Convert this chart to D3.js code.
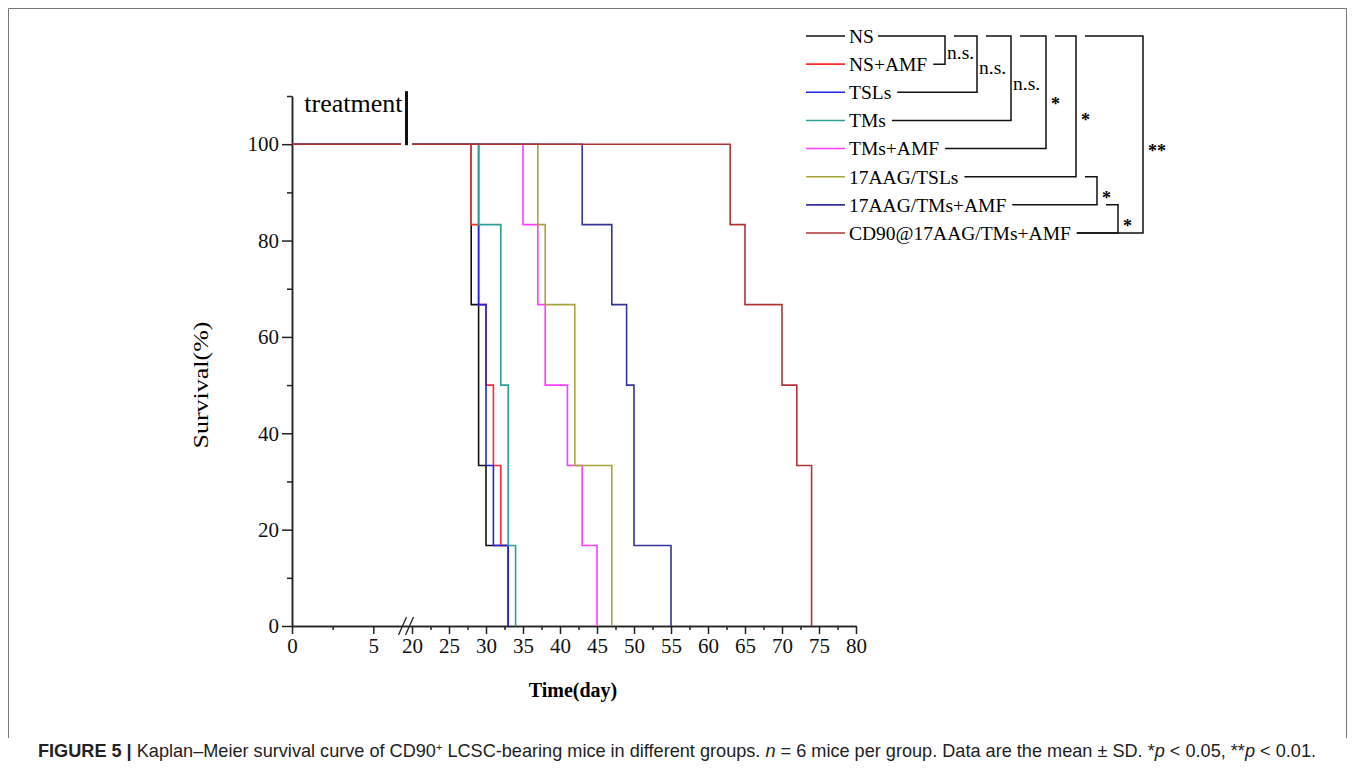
<!DOCTYPE html>
<html>
<head>
<meta charset="utf-8">
<script src="https://cdn.jsdelivr.net/npm/d3@7"></script>
<style>
  body { margin: 0; background: #fff; }
  svg { display: block; }
</style>
</head>
<body>
<div id="chart"></div>
<script>
// groups, in legend order (last one is drawn on top)
const groups = ["NS", "NS+AMF", "TSLs", "TMs", "TMs+AMF", "17AAG/TSLs", "17AAG/TMs+AMF", "CD90@17AAG/TMs+AMF"];
const colors = ["#111111", "#ff2a2a", "#2323e6", "#2e9f96", "#ff3cff", "#a9a33a", "#34349c", "#b03434"];

// Kaplan-Meier steps: day of each step and survival (%) after it
const stepDays = [
  [20, 28, 29, 30, 33],
  [20, 28, 29, 30, 31, 32, 33],
  [20, 29, 30, 31, 33],
  [20, 29, 32, 33, 34],
  [20, 35, 37, 38, 41, 43, 45],
  [20, 37, 38, 42, 47],
  [20, 43, 47, 49, 50, 55],
  [20, 63, 65, 70, 72, 74]
];
const stepSurvival = [
  [100, 66.7, 33.3, 16.7, 0],
  [100, 83.3, 66.7, 50, 33.3, 16.7, 0],
  [100, 66.7, 33.3, 16.7, 0],
  [100, 83.3, 50, 16.7, 0],
  [100, 83.3, 66.7, 50, 33.3, 16.7, 0],
  [100, 83.3, 66.7, 33.3, 0],
  [100, 83.3, 66.7, 50, 16.7, 0],
  [100, 83.3, 66.7, 50, 33.3, 0]
];

// axis ticks
const xMajor = [0, 5, 20, 25, 30, 35, 40, 45, 50, 55, 60, 65, 70, 75, 80];
const xMinor = [2.5, 22.5, 27.5, 32.5, 37.5, 42.5, 47.5, 52.5, 57.5, 62.5, 67.5, 72.5, 77.5];
const yMajor = [0, 20, 40, 60, 80, 100];
const yMinor = [10, 30, 50, 70, 90, 110];

// significance brackets between legend rows
const compA = [0, 0, 0, 0, 0, 0, 5, 6];
const compB = [1, 2, 3, 4, 5, 7, 6, 7];
const compLabel = ["n.s.", "n.s.", "n.s.", "*", "*", "**", "*", "*"];

const W = 1355, H = 775;
const breakLeft = 6.7, breakRight = 20;

const svg = d3.select("#chart").append("svg")
  .attr("width", W)
  .attr("height", H);

// frame round the figure
svg.append("path")
  .attr("d", "M8.5,738 V8.5 H1346.5 V738")
  .attr("fill", "none")
  .attr("stroke", "#777")
  .attr("stroke-width", 1);

// scales: broken x axis (0..6.7 then 20..80)
const x = d3.scaleLinear()
  .domain([0, breakLeft, breakRight, 80])
  .range([292, 401, 412, 856]);
const y = d3.scaleLinear()
  .domain([0, 110])
  .range([626, 96]);

const serif = "'Liberation Serif', 'Times New Roman', serif";

// X axis
svg.append("g")
  .attr("transform", `translate(0, ${y(0)})`)
  .call(d3.axisBottom(x).tickValues(xMajor).tickSize(8).tickSizeOuter(0).tickPadding(4));
svg.append("g")
  .attr("transform", `translate(0, ${y(0)})`)
  .call(d3.axisBottom(x).tickValues(xMinor).tickSize(4).tickSizeOuter(0).tickFormat(""));

// Y axis
svg.append("g")
  .attr("transform", `translate(${x(0)}, 0)`)
  .call(d3.axisLeft(y).tickValues(yMajor).tickSize(10).tickSizeOuter(0).tickPadding(3));
svg.append("g")
  .attr("transform", `translate(${x(0)}, 0)`)
  .call(d3.axisLeft(y).tickValues(yMinor).tickSize(5).tickSizeOuter(0).tickFormat(""));

svg.selectAll(".domain, .tick line")
  .attr("stroke", "#222")
  .attr("stroke-width", 1.5);
svg.selectAll(".tick text")
  .style("font-family", serif)
  .style("font-size", "21px")
  .attr("fill", "#111");

// axis break marks
const xb = (x(breakLeft) + x(breakRight)) / 2;
[-4, 3].forEach(function(o) {
  svg.append("line")
    .attr("x1", xb + o - 4).attr("y1", y(0) + 9)
    .attr("x2", xb + o + 4).attr("y2", y(0) - 9)
    .attr("stroke", "#222")
    .attr("stroke-width", 1.3);
});

// axis labels
svg.append("text")
  .attr("transform", `translate(208, 385) rotate(-90) scale(1.3, 1)`)
  .attr("text-anchor", "middle")
  .style("font-family", serif)
  .style("font-size", "20px")
  .text("Survival(%)");

svg.append("text")
  .attr("x", 573)
  .attr("y", 697)
  .attr("text-anchor", "middle")
  .style("font-family", serif)
  .style("font-size", "20px")
  .style("font-weight", "bold")
  .text("Time(day)");

// survival curves
const line = d3.line()
  .x(d => x(d[0]))
  .y(d => y(d[1]))
  .curve(d3.curveStepAfter);

groups.forEach(function(g, i) {
  // segment before the break
  svg.append("path")
    .datum([[0, stepSurvival[i][0]], [breakLeft, stepSurvival[i][0]]])
    .attr("fill", "none")
    .attr("stroke", colors[i])
    .attr("stroke-width", 1.6)
    .attr("d", line);
  // segment after the break
  svg.append("path")
    .datum(stepDays[i].map((d, j) => [d, stepSurvival[i][j]]))
    .attr("fill", "none")
    .attr("stroke", colors[i])
    .attr("stroke-width", 1.6)
    .attr("d", line);
});

// treatment marker
svg.append("line")
  .attr("x1", xb).attr("x2", xb)
  .attr("y1", y(111)).attr("y2", y(100) + 1)
  .attr("stroke", "#111")
  .attr("stroke-width", 3);
svg.append("text")
  .attr("x", xb - 4)
  .attr("y", 112)
  .attr("text-anchor", "end")
  .style("font-family", serif)
  .style("font-size", "26px")
  .text("treatment");

// legend
const ly = d3.scaleLinear().domain([0, groups.length - 1]).range([36, 233]);
const legend = svg.append("g");
const textEnd = [];
groups.forEach(function(g, i) {
  legend.append("line")
    .attr("x1", 806).attr("x2", 845)
    .attr("y1", ly(i)).attr("y2", ly(i))
    .attr("stroke", colors[i])
    .attr("stroke-width", 1.6);
  const t = legend.append("text")
    .attr("x", 849)
    .attr("y", ly(i))
    .attr("dy", "0.35em")
    .style("font-family", serif)
    .style("font-size", "19.5px")
    .text(g);
  textEnd.push(849 + t.node().getComputedTextLength());
});

// brackets
const bracketX = [945, 977, 1011, 1046, 1076, 1143, 1097, 1118];
const rowUsed = groups.map(() => null);
compA.forEach(function(a, k) {
  const b = compB[k], bx = bracketX[k];
  const ya = ly(a), yb = ly(b);
  const startA = rowUsed[a] === null ? textEnd[a] + 4 : rowUsed[a] + 9;
  const startB = textEnd[b] + 6;
  svg.append("path")
    .attr("d", `M${startA},${ya} H${bx} V${yb} H${startB}`)
    .attr("fill", "none")
    .attr("stroke", "#111")
    .attr("stroke-width", 1.5);
  rowUsed[a] = Math.max(rowUsed[a] || 0, bx);
  rowUsed[b] = Math.max(rowUsed[b] || 0, bx);
  const cy = (ya + yb) / 2 + 0.06 * (yb - ya);
  const isStar = compLabel[k].indexOf("*") === 0;
  svg.append("text")
    .attr("x", bx + (isStar ? 5 : 2))
    .attr("y", cy)
    .attr("dy", isStar ? "0.62em" : "0.35em")
    .style("font-family", serif)
    .style("font-size", isStar ? "18px" : "19.5px")
    .style("font-weight", isStar ? "bold" : "normal")
    .text(compLabel[k]);
});

// caption
const cap = svg.append("text")
  .attr("x", 38)
  .attr("y", 757)
  .style("font-family", "'Liberation Sans', Arial, sans-serif")
  .style("font-size", "17px")
  .attr("fill", "#222");
cap.append("tspan").style("font-weight", "bold").text("FIGURE 5 | ");
cap.append("tspan").text("Kaplan–Meier survival curve of CD90");
cap.append("tspan").attr("dy", -6).style("font-size", "11px").text("+");
cap.append("tspan").attr("dy", 6).text(" LCSC-bearing mice in different groups. ");
cap.append("tspan").style("font-style", "italic").text("n");
cap.append("tspan").text(" = 6 mice per group. Data are the mean ± SD. *");
cap.append("tspan").style("font-style", "italic").text("p");
cap.append("tspan").text(" < 0.05, **");
cap.append("tspan").style("font-style", "italic").text("p");
cap.append("tspan").text(" < 0.01.");
// fit caption to its width in the figure
const capLen = cap.node().getComputedTextLength();
cap.style("font-size", (17 * 1280 / capLen) + "px");
</script>
</body>
</html>
